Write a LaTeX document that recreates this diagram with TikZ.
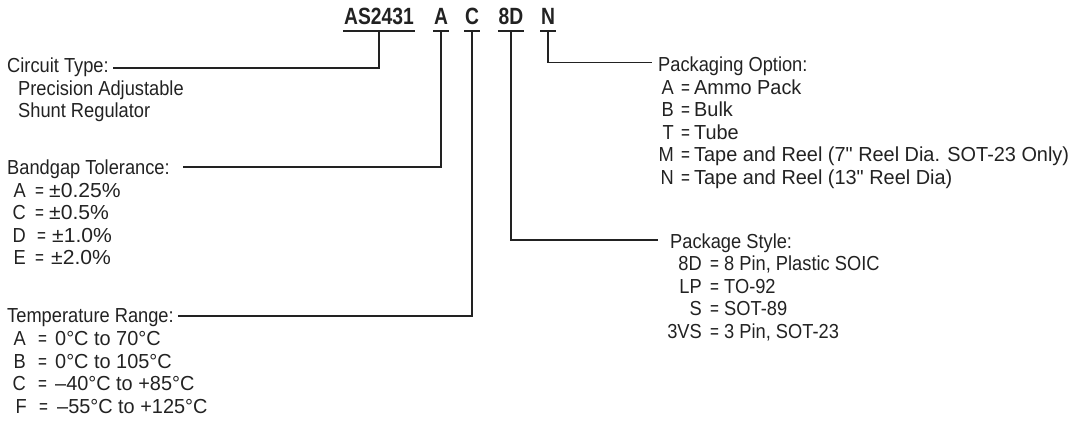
\documentclass[tikz,border=0pt]{standalone}
\usepackage{fontspec}
\setmainfont[FakeStretch=0.9,Ligatures=TeXOff]{Liberation Sans}
\newfontfamily\valfont[FakeStretch=0.98,Ligatures=TeXOff]{Liberation Sans}
\newfontfamily\widefont[FakeStretch=1.04,Ligatures=TeXOff]{Liberation Sans}
\newfontfamily\eqfont[FakeStretch=0.75,Ligatures=TeXOff]{Liberation Sans}
\newfontfamily\hdrfont[FakeStretch=0.82,Ligatures=TeXOff]{Liberation Sans}
\definecolor{ink}{HTML}{222222}
\tikzset{
  lbl/.style={anchor=base west,inner sep=0pt,text=ink,font=\fontsize{20.3}{24}\selectfont},
  codet/.style={lbl,anchor=base east},
  eqt/.style={lbl,font=\eqfont\fontsize{20.3}{24}\selectfont},
  valt/.style={lbl,font=\valfont\fontsize{20.3}{24}\selectfont},
  widet/.style={lbl,font=\widefont\fontsize{20.3}{24}\selectfont},
  hdr/.style={anchor=base,inner xsep=0.5pt,inner ysep=0pt,text=ink,font=\hdrfont\fontsize{23.5}{26}\selectfont\bfseries},
  wire/.style={draw=ink,line width=1.3pt}
}
% name, x code (right edge), x '=', x value, baseline, code, value, value style
\newcommand\orow[8]{%
  \node[codet] (#1c) at (#2,#5) {#6};
  \node[eqt] (#1e) at (#3,#5) {=};
  \node[#8] (#1v) at (#4,#5) {#7};}
\begin{document}
\begin{tikzpicture}[x=1pt,y=-1pt]
\useasboundingbox (0,0) rectangle (1080,429);
% header
\node[hdr] (hAS) at (379,24.5) {AS2431};
\node[hdr] (hA) at (441,24.5) {A};
\node[hdr] (hC) at (472,24.5) {C};
\node[hdr] (hD) at (511,24.5) {8D};
\node[hdr] (hN) at (548,24.5) {N};
\foreach \n in {hAS,hA,hC,hD,hN}{
  \draw[wire] ([yshift=-6.5pt]\n.base west) -- ([yshift=-6.5pt]\n.base east);
}
% left labels
\node[lbl] (ct) at (7,72) {Circuit Type:};
\node[lbl] (ct1) at (18,95.5) {Precision Adjustable};
\node[lbl] (ct2) at (18,117.5) {Shunt Regulator};
\node[lbl] (bg) at (7,174.5) {Bandgap Tolerance:};
\orow{bga}{26}{35}{49}{197}{A}{±0.25\%}{widet}
\orow{bgc}{26}{35}{49}{219.5}{C}{±0.5\%}{widet}
\orow{bgd}{26}{37}{52}{242}{D}{±1.0\%}{widet}
\orow{bge}{26}{35}{51}{264.5}{E}{±2.0\%}{widet}
\node[lbl] (tr) at (7,322) {Temperature Range:};
\orow{tra}{26}{38}{55}{345.5}{A}{0°C to 70°C}{valt}
\orow{trb}{26}{38}{55}{368}{B}{0°C to 105°C}{valt}
\orow{trc}{26}{38}{55}{390.5}{C}{–40°C to +85°C}{valt}
\orow{trf}{27}{39}{57}{413}{F}{–55°C to +125°C}{valt}
% right labels
\node[lbl] (po) at (658,71) {Packaging Option:};
\orow{poa}{674}{681}{694}{94}{A}{Ammo Pack}{valt}
\orow{pob}{674}{681}{694}{116.5}{B}{Bulk}{valt}
\orow{pot}{674}{681}{694}{139}{T}{Tube}{valt}
\orow{pom}{674}{681}{694}{161.5}{M}{Tape and Reel (7" Reel Dia. SOT-23 Only)}{valt}
\orow{pon}{674}{681}{694}{184}{N}{Tape and Reel (13" Reel Dia)}{valt}
\node[lbl] (ps) at (670,248) {Package Style:};
\orow{ps8}{702}{710}{724}{270.5}{8D}{8 Pin, Plastic SOIC}{lbl}
\orow{psl}{702}{710}{724}{293}{LP}{TO-92}{lbl}
\orow{pss}{702}{710}{724}{315.5}{S}{SOT-89}{lbl}
\orow{ps3}{702}{710}{724}{338}{3VS}{3 Pin, SOT-23}{lbl}
% connector ends
\coordinate (ctE) at (113,68);
\coordinate (bgE) at (183,167);
\coordinate (trE) at (178,316);
\coordinate (poE) at (652,62.5);
\coordinate (psE) at (658,240);
\draw[wire] ([yshift=-6.5pt]hAS.base) |- (ctE);
\draw[wire] ([yshift=-6.5pt]hA.base) |- (bgE);
\draw[wire] ([yshift=-6.5pt]hC.base) |- (trE);
\draw[wire] ([yshift=-6.5pt]hD.base) |- (psE);
\draw[wire] ([yshift=-6.5pt]hN.base) |- (poE);
\end{tikzpicture}
\end{document}
